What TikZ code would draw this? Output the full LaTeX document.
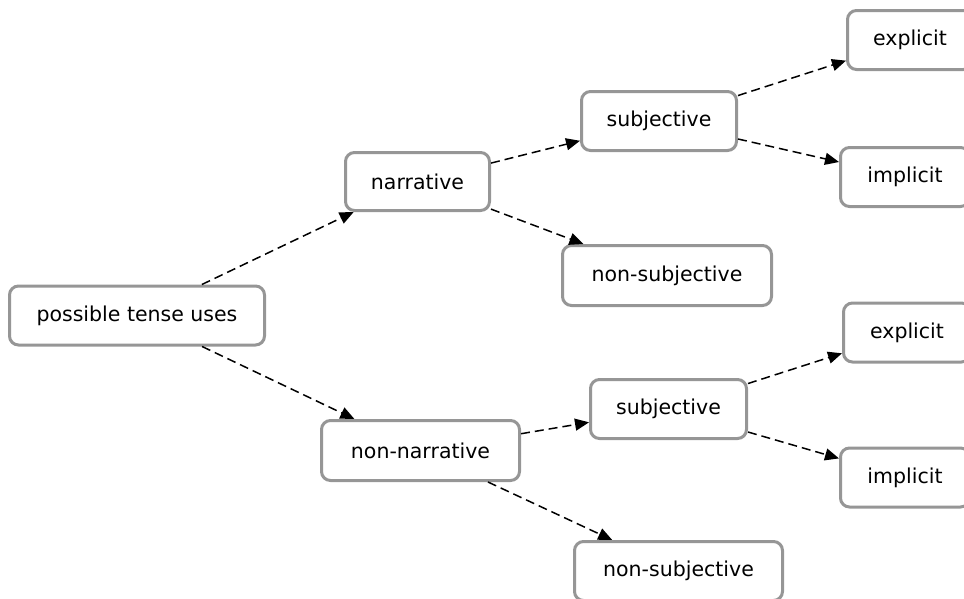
\documentclass[tikz,border=0pt]{standalone}
\usepackage{fontspec}
\setmainfont{DejaVu Sans}
\usetikzlibrary{arrows.meta}
\definecolor{boxgray}{RGB}{150,150,150}
\tikzset{
  box/.style={draw=boxgray, line width=3pt, fill=white, rounded corners=9pt,
    inner sep=0pt, font=\fontsize{20.5}{24}\selectfont, text=black},
  link/.style={draw=black, line width=1.5pt, dash pattern=on 9pt off 5pt,
    -{Triangle[length=14pt,width=12pt]}}
}
\begin{document}
\begin{tikzpicture}[x=1pt,y=-1pt]
\clip (0,0) rectangle (964,598);
\useasboundingbox (0,0) rectangle (964,598);
\node[box, minimum width=255pt, minimum height=59pt] (pt) at (137,315.5) {possible tense uses};
\node[box, minimum width=144pt, minimum height=58pt] (nar) at (417.5,181.5) {narrative};
\node[box, minimum width=198pt, minimum height=60pt] (nonnar) at (420.5,450.5) {non-narrative};
\node[box, minimum width=155pt, minimum height=59pt] (subja) at (659,121) {subjective};
\node[box, minimum width=209pt, minimum height=60pt] (nonsubja) at (667,275.5) {non-subjective};
\node[box, minimum width=125pt, minimum height=59pt] (expa) at (910,40) {explicit};
\node[box, minimum width=129pt, minimum height=59pt] (impa) at (905,177) {implicit};
\node[box, minimum width=156pt, minimum height=59pt] (subjb) at (668.5,409) {subjective};
\node[box, minimum width=208pt, minimum height=59pt] (nonsubjb) at (678.5,571) {non-subjective};
\node[box, minimum width=127pt, minimum height=59pt] (expb) at (907,332.5) {explicit};
\node[box, minimum width=129pt, minimum height=59pt] (impb) at (905,477.5) {implicit};
\draw[link] (pt) -- (nar);
\draw[link] (pt) -- (nonnar);
\draw[link] (nar) -- (subja);
\draw[link] (nar) -- (nonsubja);
\draw[link] (subja) -- (expa);
\draw[link] (subja) -- (impa);
\draw[link] (nonnar) -- (subjb);
\draw[link] (nonnar) -- (nonsubjb);
\draw[link] (subjb) -- (expb);
\draw[link] (subjb) -- (impb);
\end{tikzpicture}
\end{document}
